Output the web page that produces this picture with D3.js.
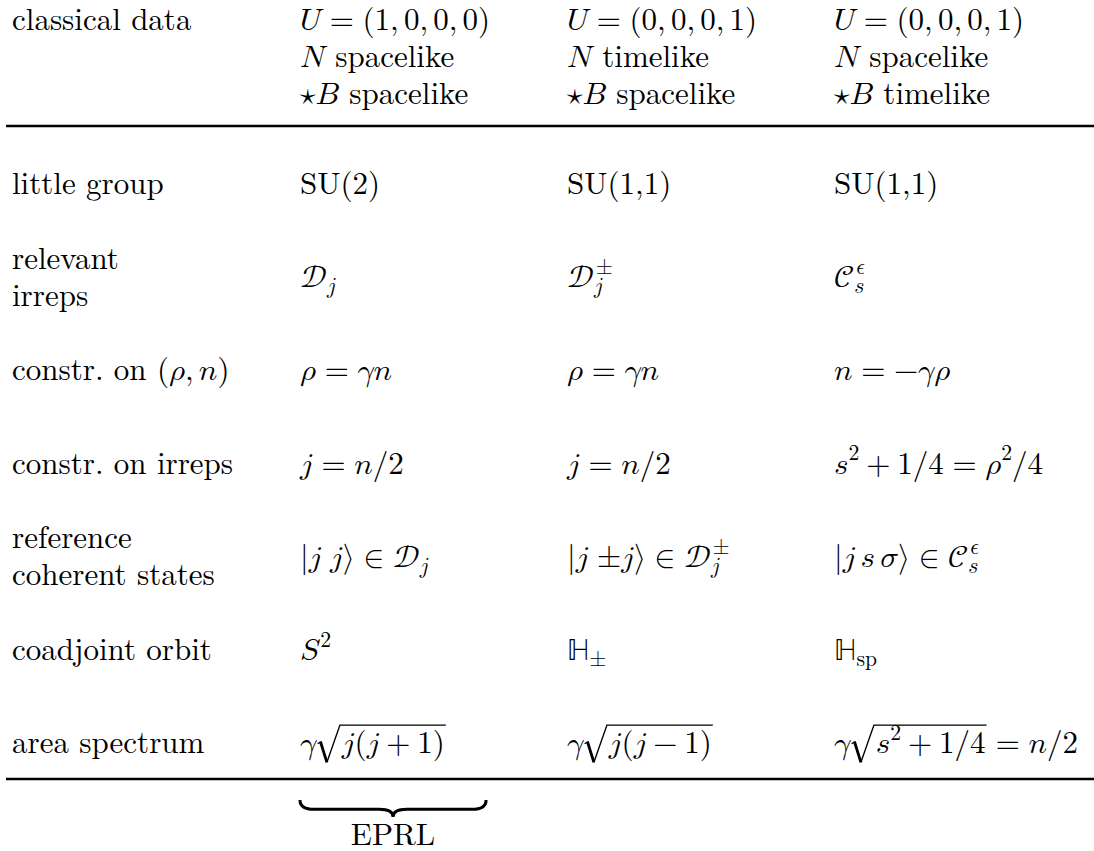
<!DOCTYPE html>
<html>
<head>
<meta charset="utf-8">
<script src="https://cdn.jsdelivr.net/npm/d3@7"></script>
<style>
  html, body { margin: 0; padding: 0; background: #fff; }
  svg text tspan { white-space: pre; }
</style>
</head>
<body>
<div id="chart"></div>
<script>
// table content, written as small latex-like strings ($...$ = math)
const headerLabel = "classical data";
const rowLabels = [
  ["little group"],
  ["relevant", "irreps"],
  ["constr. on $(\\rho, n)$"],
  ["constr. on irreps"],
  ["reference", "coherent states"],
  ["coadjoint orbit"],
  ["area spectrum"]
];
const columnHeaders = [
  ["$U = (1, 0, 0, 0)$", "$N$ spacelike", "$\\star B$ spacelike"],
  ["$U = (0, 0, 0, 1)$", "$N$ timelike", "$\\star B$ spacelike"],
  ["$U = (0, 0, 0, 1)$", "$N$ spacelike", "$\\star B$ timelike"]
];
const colEPRL = ["SU(2)", "$\\mathcal{D}_j$", "$\\rho = \\gamma n$", "$j = n/2$",
  "$|j\\;j\\rangle \\in \\mathcal{D}_j$", "$S^2$", "$\\gamma\\sqrt{j(j+1)}$"];
const colTimelikeN = ["SU(1,1)", "$\\mathcal{D}_j^\\pm$", "$\\rho = \\gamma n$", "$j = n/2$",
  "$|j\\;\\pm j\\rangle \\in \\mathcal{D}_j^\\pm$", "$\\mathbb{H}_\\pm$", "$\\gamma\\sqrt{j(j-1)}$"];
const colSpacelikeN = ["SU(1,1)", "$\\mathcal{C}_s^\\epsilon$", "$n = -\\gamma\\rho$", "$s^2 + 1/4 = \\rho^2/4$",
  "$|j\\,s\\,\\sigma\\rangle \\in \\mathcal{C}_s^\\epsilon$", "$\\mathbb{H}_{\\mathrm{sp}}$", "$\\gamma\\sqrt{s^2 + 1/4} = n/2$"];
const bracedLabel = "EPRL";

const columns = [colEPRL, colTimelikeN, colSpacelikeN];

const width = 1094, height = 851;
const FS = 31;            // font size
const LINE = 37;          // baselineskip
const FONT = "'Latin Modern Roman', 'Liberation Serif', serif";
const MATH = "'Latin Modern Math', 'STIX Two Math', 'DejaVu Sans', sans-serif";

// math italic greek + symbols
const MACROS = {gamma: "\u{1D6FE}", rho: "\u{1D70C}", sigma: "\u{1D70E}", epsilon: "\u{1D716}",
  in: "∈", pm: "±", star: "⋆", rangle: "⟩"};
const CAL = {D: "𝒟", C: "𝒞"};
const BB = {H: "ℍ"};
const mathItalic = c => String.fromCodePoint(c >= "a" ? 0x1D44E + c.charCodeAt(0) - 97 : 0x1D434 + c.charCodeAt(0) - 65);

// parse a cell string into atoms
function parseCell(src) {
  const out = [];
  let buf = "", i = 0;
  while (i < src.length) {
    if (src[i] === "$") {
      if (buf) { out.push({t: buf, cls: "text"}); buf = ""; }
      const j = src.indexOf("$", i + 1);
      out.push(...parseMath(src.slice(i + 1, j)));
      i = j + 1;
    } else buf += src[i++];
  }
  if (buf) out.push({t: buf, cls: "text"});
  return out;
}

function parseMath(s) {
  const out = [];
  let i = 0;
  const group = () => {
    if (s[i] === "{") {
      let depth = 1, j = i + 1;
      while (depth) { if (s[j] === "{") depth++; else if (s[j] === "}") depth--; j++; }
      const g = s.slice(i + 1, j - 1); i = j; return g;
    }
    if (s[i] === "\\") {
      let j = i + 1;
      while (j < s.length && /[a-zA-Z]/.test(s[j])) j++;
      const g = s.slice(i, j); i = j; return g;
    }
    return s[i++];
  };
  while (i < s.length) {
    const c = s[i];
    if (c === " ") { i++; continue; }
    if (c === "\\") {
      let j = i + 1;
      if (!/[a-zA-Z]/.test(s[j])) { out.push({space: s[j] === "," ? 0.167 : 0.278}); i = j + 1; continue; }
      while (j < s.length && /[a-zA-Z]/.test(s[j])) j++;
      const name = s.slice(i + 1, j); i = j;
      if (name === "sqrt") { out.push({sqrt: parseMath(group())}); continue; }
      if (name === "mathcal") { out.push({t: CAL[group()], cls: "ord", math: true}); continue; }
      if (name === "mathbb") { out.push({t: BB[group()], cls: "ord", math: true}); continue; }
      if (name === "mathrm") { out.push({t: group(), cls: "ord"}); continue; }
      const cls = name === "in" ? "rel" : name === "pm" ? "bin" : name === "rangle" ? "close" : "ord";
      out.push({t: MACROS[name], cls, math: name !== "pm", it: /gamma|rho|sigma|epsilon/.test(name)});
      continue;
    }
    if (c === "_" || c === "^") { i++; out.push({script: c === "_" ? "sub" : "sup", body: parseMath(group())}); continue; }
    i++;
    if (/[a-zA-Z]/.test(c)) out.push({t: mathItalic(c), cls: "ord", it: true, math: true, cap: c < "a"});
    else if (c === "=") out.push({t: "=", cls: "rel"});
    else if (c === "+") out.push({t: "+", cls: "bin"});
    else if (c === "-") out.push({t: "−", cls: "bin"});
    else if (c === ",") out.push({t: ",", cls: "punct"});
    else if (c === "(") out.push({t: "(", cls: "open"});
    else if (c === ")") out.push({t: ")", cls: "close"});
    else out.push({t: c, cls: "ord"});
  }
  return out;
}

const svg = d3.select("#chart").append("svg")
  .attr("width", width).attr("height", height);
const marks = svg.append("g");

// lay atoms out left to right, returns end x
function typeset(text, atoms, x, y, f, inScript) {
  let prev = "open", prevCap = false, last = null;
  for (const a of atoms) {
    if (a.space !== undefined) { x += a.space * f; prev = "open"; last = null; continue; }
    if (a.script) {
      const sf = f * 0.7;
      const stacked = last && last.type !== a.script;
      const sh = a.script === "sup" ? -0.42 * f : 0.2 * f;
      let sx = stacked ? last.x0 + (a.script === "sup" ? 0.06 * f : 0) : x + (a.script === "sup" && prevCap ? 0.04 * f : 0);
      const end = typeset(text, a.body, sx, y + sh, sf, true);
      if (stacked) { x = Math.max(last.end, end); last = null; }
      else { last = {type: a.script, x0: sx, end}; x = end; }
      prev = "ord";
      continue;
    }
    last = null;
    if (a.sqrt) {
      const x0 = x + 0.05 * f;
      const x1 = typeset(text, a.sqrt, x0 + 0.78 * f, y, f, inScript);
      const top = y - 0.9 * f;
      marks.append("path")
        .attr("d", `M${x0},${y - 0.3 * f}L${x0 + 0.1 * f},${y - 0.36 * f}`)
        .attr("stroke", "#000").attr("stroke-width", 1.3).attr("fill", "none");
      marks.append("path")
        .attr("d", `M${x0 + 0.09 * f},${y - 0.37 * f}L${x0 + 0.3 * f},${y + 0.3 * f}`)
        .attr("stroke", "#000").attr("stroke-width", 2.8).attr("fill", "none");
      marks.append("path")
        .attr("d", `M${x0 + 0.3 * f},${y + 0.3 * f}L${x0 + 0.72 * f},${top}L${x1 + 0.03 * f},${top}`)
        .attr("stroke", "#000").attr("stroke-width", 1.4).attr("fill", "none");
      x = x1 + 0.05 * f;
      prev = "ord";
      continue;
    }
    let cls = a.cls;
    if (cls === "bin" && ["open", "bin", "rel", "punct"].includes(prev)) cls = "ord";
    const gap = inScript ? 0 : cls === "rel" ? 0.278 * f : cls === "bin" ? 0.222 * f : 0;
    x += gap;
    const ts = text.append("tspan")
      .attr("x", x).attr("y", y)
      .attr("fill", "#000")
      .style("font-family", a.math ? MATH : FONT)
      .style("font-size", f + "px")
      .style("font-style", "normal")
      .text(a.t);
    x += ts.node().getComputedTextLength() + gap;
    if (cls === "punct") x += 0.167 * f;
    prev = cls; prevCap = !!a.cap;
  }
  return x;
}

function cell(src, x, y) {
  const t = svg.append("text").attr("fill", "#000").style("font-family", FONT);
  return typeset(t, parseCell(src), x, y, FS, false) - x;
}

const labelX = 12;
const colX = d3.scalePoint().domain(d3.range(columns.length)).range([300, 834]);
const rowY = d3.scalePoint().domain(d3.range(rowLabels.length)).range([194, 753]);
const headY = 30;

// header row
cell(headerLabel, labelX, headY);
const colWidths = columns.map(() => 0);
columnHeaders.forEach((lines, c) => {
  lines.forEach((s, k) => {
    colWidths[c] = Math.max(colWidths[c], cell(s, colX(c), headY + k * LINE));
  });
});

// rules
const ruleY = [126, 779];
svg.selectAll("line.rule").data(ruleY).enter().append("line")
  .attr("class", "rule")
  .attr("x1", 6).attr("x2", width)
  .attr("y1", d => d).attr("y2", d => d)
  .attr("stroke", "#000").attr("stroke-width", 2.6);

// body
rowLabels.forEach((lines, r) => {
  const b = rowY(r);
  lines.forEach((s, k) => cell(s, labelX, b + (k - (lines.length - 1) / 2) * LINE));
  columns.forEach((col, c) => {
    colWidths[c] = Math.max(colWidths[c], cell(col[r], colX(c), b));
  });
});

// underbrace below the first column
const xa = colX(0), xb = colX(0) + colWidths[0] - 4;
const mid = (xa + xb) / 2, yt = 800, h = 17, ym = yt + h * 0.55;
svg.append("path")
  .attr("d", `M${xa},${yt}Q${xa},${ym} ${xa + 14},${ym}L${mid - 14},${ym}Q${mid},${ym} ${mid},${yt + h}` +
             `Q${mid},${ym} ${mid + 14},${ym}L${xb - 14},${ym}Q${xb},${ym} ${xb},${yt}`)
  .attr("fill", "none").attr("stroke", "#000").attr("stroke-width", 3);
svg.append("text")
  .attr("x", mid).attr("y", 845)
  .attr("text-anchor", "middle")
  .style("font-family", FONT)
  .style("font-size", FS + "px")
  .text(bracedLabel);
</script>
</body>
</html>
